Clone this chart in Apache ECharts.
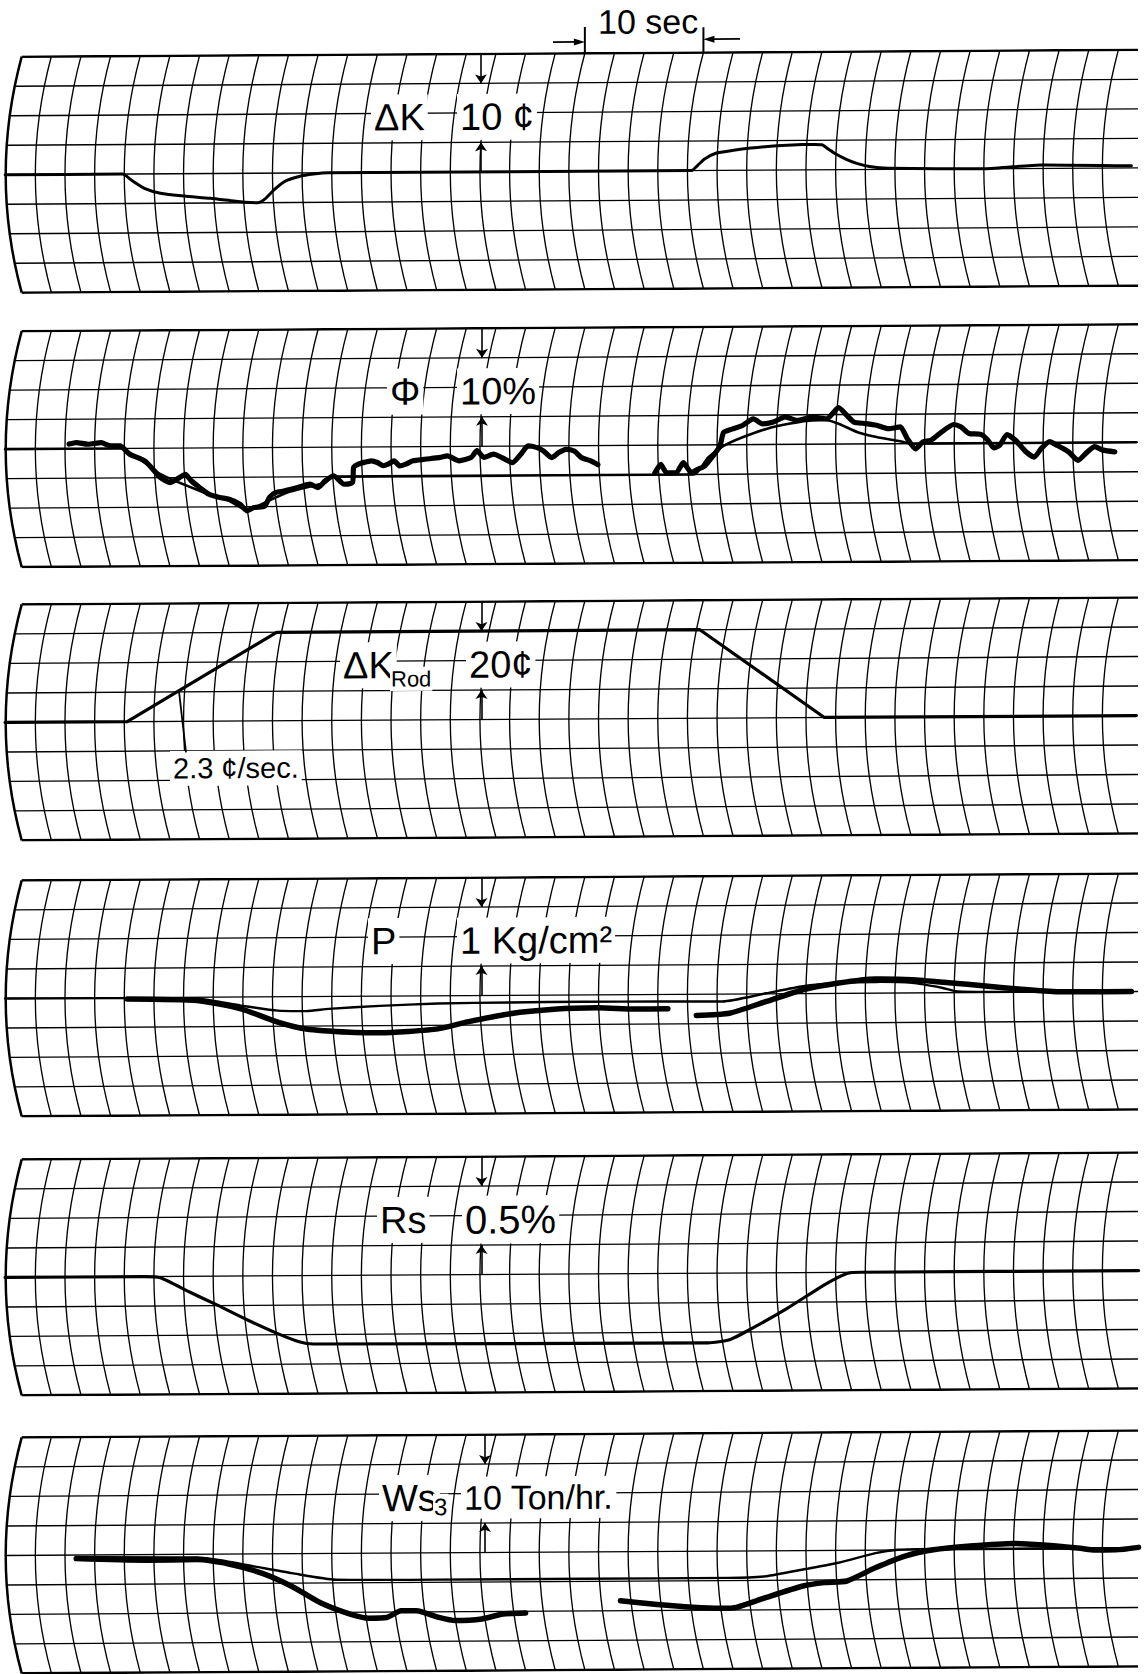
<!DOCTYPE html>
<html>
<head>
<meta charset="utf-8">
<script src="https://cdn.jsdelivr.net/npm/echarts/dist/echarts.min.js"></script>
<style>
  html, body { margin: 0; padding: 0; background: #fff; }
  /* the recorder strips sit slightly tilted on the page */
  #chart { width: 1144px; height: 1674px; transform: skewY(-0.35deg); transform-origin: 50% 50%; }
</style>
</head>
<body>
<div id="chart"></div>
<script>
// recorder paper: one division = 2.5 s, 10 s = 4 divisions
var SEC_PER_DIV = 2.5;
var TIME_LINES = 38;

// value of one chart division for each strip (ΔK ¢, Φ %, ΔK_Rod ¢, P kg/cm², Rs %, Ws3 ton/hr)
var unitPerDiv = [5, 5, 10, 0.5, 0.25, 5];

// strip 1: reactivity ΔK (¢) vs time (s)
var deltaK = [[-1.4,0],[8.5,0],[9.3,-1.1],[10.4,-2.5],[11.7,-3.3],[13.7,-3.8],[15.9,-4.2],[17.9,-4.7],[18.8,-4.9],[19.9,-5.0],
  [20.5,-4.4],[21.3,-2.8],[22.2,-1.4],[23.4,-0.6],[24.6,-0.2],[25.9,0],[56.5,0],[57.0,0.85],[57.6,1.95],[58.6,2.95],
  [59.9,3.35],[61.5,3.75],[63.4,4.1],[65.0,4.25],[66.7,4.3],[67.5,4.25],[67.9,3.7],[68.6,2.75],[69.6,1.7],[70.5,1.0],
  [71.5,0.5],[73.1,0.2],[81.2,0],[86.0,0.6],[93.6,0.35]];

// strip 2: flux Φ (%), calculated and measured (two pieces)
var phiCalc = [[-1.4,0],[8.3,0],[11.7,-4.4],[15.0,-7.25],[17.5,-9.0],[19.0,-10.6],[20.8,-9.05],[22.4,-7.65],[24.0,-6.8],
  [25.6,-6.0],[26.3,-5.0],[56.7,-5.0],[57.9,-2.15],[59.2,-0.2],[60.8,1.25],[62.8,2.65],[64.7,3.5],[66.7,4.05],[67.9,4.05],
  [68.9,3.45],[70.5,2.0],[72.1,1.15],[74.1,0.4],[75.0,0],[94.0,0]];
var phiMeasuredA = [[4.0,0.8],[4.6,1.05],[5.6,0.75],[6.7,1.0],[7.5,0.45],[8.3,0.45],[9.1,-1.0],[10.4,-2.15],[11.7,-4.95],
  [12.5,-5.85],[13.3,-5.0],[13.8,-4.45],[14.3,-5.55],[15.0,-6.7],[15.8,-7.85],[16.7,-8.4],[17.5,-8.7],[18.4,-9.55],
  [19.0,-10.7],[19.6,-10.15],[20.5,-9.9],[20.9,-8.45],[21.4,-7.65],[22.1,-7.4],[22.7,-7.1],[23.7,-6.55],[24.3,-6.25],
  [25.0,-6.85],[25.6,-5.7],[26.3,-4.85],[27.2,-6.3],[27.9,-6.0],[28.0,-3.45],[28.4,-2.9],[28.8,-2.65],[29.5,-2.35],
  [30.0,-2.65],[30.5,-3.2],[30.9,-2.95],[31.4,-2.4],[31.9,-3.25],[32.4,-2.95],[33.0,-2.4],[34.0,-2.15],[35.3,-1.85],
  [35.9,-1.6],[36.9,-2.45],[37.9,-1.9],[38.4,-0.75],[39.0,-1.9],[39.8,-1.35],[40.5,-1.95],[41.4,-2.8],[42.1,-1.4],
  [42.7,0],[43.4,-0.25],[44.0,-0.85],[44.7,-2.0],[45.3,-1.15],[45.9,-0.6],[46.6,-0.9],[47.2,-2.0],[48.0,-2.6],[48.6,-3.25]];
var phiMeasuredB = [[53.4,-4.7],[53.9,-3.25],[54.4,-4.7],[55.2,-4.7],[55.8,-3.0],[56.5,-4.7],[57.0,-4.15],[57.6,-3.6],
  [58.3,-1.9],[58.9,-0.2],[59.2,2.1],[59.9,2.65],[60.8,3.25],[61.7,4.35],[62.5,3.5],[63.4,3.8],[64.4,4.65],[65.4,4.05],
  [66.7,4.6],[67.9,4.3],[68.9,6.2],[69.6,4.85],[70.2,3.7],[71.2,3.45],[72.1,3.15],[73.1,2.55],[74.1,2.85],[74.7,0.85],
  [75.4,-0.9],[76.0,0.25],[76.7,0.55],[77.6,1.95],[78.6,3.2],[79.2,2.8],[79.9,1.65],[80.9,1.5],[81.5,0.5],[82.0,-0.8],
  [82.5,-0.35],[83.1,1.45],[83.8,0.5],[84.7,-1.5],[85.4,-2.4],[86.0,-0.95],[86.7,0.2],[87.3,-0.4],[88.3,-1.55],
  [89.1,-3.0],[89.9,-1.55],[90.5,-0.7],[91.2,-1.3],[92.2,-1.6]];

// strip 3: rod reactivity ΔK_Rod (¢)
var rodK = [[-1.4,0],[8.9,0],[21.5,30],[57.2,30],[67.7,0],[94.0,0]];

// strip 4: pressure P (kg/cm²), calculated and measured
var pressCalc = [[-1.4,0],[14.8,-0.025],[18.5,-0.145],[21.6,-0.235],[24.0,-0.245],[25.9,-0.21],[30.2,-0.165],[35.1,-0.13],
  [41.2,-0.12],[47.4,-0.115],[53.6,-0.12],[59.1,-0.125],[62.8,0.01],[65.9,0.125],[68.9,0.175],[72.0,0.19],[75.1,0.17],
  [77.6,0.085],[78.8,0.025],[81.3,0.01],[93.6,0]];
var pressMeasuredA = [[8.9,-0.02],[14.8,-0.055],[18.5,-0.2],[21.6,-0.43],[24.0,-0.55],[27.7,-0.61],[30.2,-0.62],[32.6,-0.6],
  [35.1,-0.56],[37.6,-0.445],[41.2,-0.31],[44.9,-0.24],[48.6,-0.22],[51.7,-0.245],[54.5,-0.245]];
var pressMeasuredB = [[56.9,-0.36],[59.7,-0.325],[62.8,-0.13],[65.9,0.065],[68.9,0.175],[72.0,0.24],[75.1,0.225],[78.2,0.17],
  [81.3,0.11],[84.3,0.05],[87.4,0.005],[93.6,0]];

// strip 5: Rs (%)
var rs = [[-1.4,0],[10.2,0],[11.7,-0.01],[14.2,-0.135],[16.6,-0.25],[19.1,-0.375],[21.6,-0.49],[23.4,-0.56],[24.6,-0.58],
  [57.9,-0.59],[59.7,-0.565],[61.6,-0.47],[64.6,-0.3],[67.7,-0.105],[69.6,-0.01],[70.8,0],[94.2,0]];

// strip 6: steam flow Ws3 (ton/hr), calculated and measured
var wsCalc = [[4.6,-0.35],[14.8,-0.55],[16.6,-1.0],[19.7,-2.15],[22.8,-3.3],[26.5,-4.45],[35.1,-4.55],[47.4,-4.55],
  [59.7,-4.55],[62.8,-4.3],[65.9,-3.2],[68.9,-2.1],[72.0,-0.5],[73.9,0.05],[76.9,0.15],[94.2,0.05]];
var wsMeasuredA = [[4.6,-0.6],[10.5,-0.95],[14.8,-0.9],[17.3,-1.6],[20.3,-3.3],[22.8,-5.55],[25.2,-8.35],[27.7,-10.3],
  [29.3,-11.0],[30.8,-10.9],[32.0,-9.8],[33.3,-9.8],[35.1,-10.9],[36.6,-11.5],[38.8,-11.25],[40.6,-10.45],[42.5,-10.3]];
var wsMeasuredB = [[50.5,-8.3],[53.6,-9.0],[56.6,-9.5],[59.1,-9.7],[60.3,-9.55],[62.8,-7.9],[65.9,-6.0],[67.7,-5.45],
  [69.6,-5.2],[72.0,-3.0],[74.5,-1.05],[76.9,0.0],[80.0,0.6],[83.7,1.0],[86.2,0.7],[89.3,0.1],[90.5,-0.2],[92.3,-0.2],[94.2,0.2]];

// ---- layout (pixels) ----
var W = 1144;
var X0 = 21.7, DIV_PX = 29.64, ROW_PX = 29.5, SAG_PX = 16, LINE_END_PX = 1138;
var panelTop = [53.3, 327.7, 601, 877, 1156, 1434];
var scaleBarX = [481, 482, 481.5, 481.5, 481.5, 485];
var FONT = '"Liberation Sans", Arial, sans-serif';

var PX_PER_S = DIV_PX / SEC_PER_DIV;
function tAt(px) { return (px - X0) / PX_PER_S; }
function pxAt(t) { return X0 + t * PX_PER_S; }
var sag = SAG_PX / PX_PER_S;
var tEnd = tAt(LINE_END_PX);

var traces = [
  { p: 0, data: deltaK, w: 3 },
  { p: 1, data: phiCalc, w: 2.6 },
  { p: 1, data: phiMeasuredA, w: 5.2 },
  { p: 1, data: phiMeasuredB, w: 5.2 },
  { p: 2, data: rodK, w: 3.2, sharp: true },
  { p: 3, data: pressCalc, w: 2.4 },
  { p: 3, data: pressMeasuredA, w: 5.5 },
  { p: 3, data: pressMeasuredB, w: 5.5 },
  { p: 4, data: rs, w: 3.2 },
  { p: 5, data: wsCalc, w: 2.4 },
  { p: 5, data: wsMeasuredA, w: 5.5 },
  { p: 5, data: wsMeasuredB, w: 5.5 }
];

var grids = [], xAxes = [], yAxes = [], series = [];

function gridLines(p, data, width) {
  return {
    type: 'lines', coordinateSystem: 'cartesian2d', xAxisIndex: p, yAxisIndex: p,
    polyline: true, silent: true, z: 1,
    lineStyle: { color: '#000', width: width, opacity: 1 },
    data: data
  };
}

panelTop.forEach(function (top, p) {
  var u = unitPerDiv[p];
  grids.push({ left: 0, top: top, width: W, height: 8 * ROW_PX });
  xAxes.push({ type: 'value', gridIndex: p, min: tAt(0), max: tAt(W), show: false });
  yAxes.push({ type: 'value', gridIndex: p, min: -4 * u, max: 4 * u, show: false });

  // curved time lines of the recorder chart
  var thin = [], bold = [];
  for (var i = 0; i < TIME_LINES; i++) {
    var pts = [];
    for (var k = -8; k <= 8; k++) {
      var d = k / 2;
      pts.push([i * SEC_PER_DIV - sag * (1 - (d / 4) * (d / 4)), d * u]);
    }
    (i === 0 ? bold : thin).push({ coords: pts });
  }
  for (var d2 = -4; d2 <= 4; d2++) {
    var start = -sag * (1 - (d2 / 4) * (d2 / 4));
    (Math.abs(d2) === 4 ? bold : thin).push({ coords: [[start, d2 * u], [tEnd, d2 * u]] });
  }
  series.push(gridLines(p, thin, 1.35));
  series.push(gridLines(p, bold, 2.5));

  // scale bar: two arrows pointing at the lines two divisions apart
  var ts = tAt(scaleBarX[p]);
  series.push({
    type: 'lines', coordinateSystem: 'cartesian2d', xAxisIndex: p, yAxisIndex: p, silent: true, z: 4,
    symbol: ['none', 'arrow'], symbolSize: 9,
    lineStyle: { color: '#000', width: 1.6, opacity: 1 },
    data: [{ coords: [[ts, 4 * u], [ts, 3 * u]] }, { coords: [[ts, 0], [ts, u]] }]
  });
});

traces.forEach(function (tr) {
  series.push({
    type: 'line', xAxisIndex: tr.p, yAxisIndex: tr.p, data: tr.data,
    symbol: 'none', silent: true, z: 3,
    smooth: tr.sharp ? false : 0.2,
    lineStyle: { color: '#000', width: tr.w, cap: 'round', join: 'round' }
  });
});

// scale labels on each strip
var labelParts = [
  [{ text: 'ΔK', x: 371 }, { text: '10 ¢', x: 457 }],
  [{ text: 'Φ', x: 387 }, { text: '10%', x: 457 }],
  [{ text: 'ΔK', x: 340 }, { text: 'Rod', x: 390, size: 22, dy: 14 }, { text: '20¢', x: 466 }],
  [{ text: 'P', x: 368 }, { text: '1 Kg/cm²', x: 457 }],
  [{ text: 'Rs', x: 377 }, { text: '0.5%', x: 462, size: 40 }],
  [{ text: 'Ws', x: 379 }, { text: '3', x: 433, size: 24, dy: 9 }, { text: '10 Ton/hr.', x: 461, size: 34 }]
];

function textEl(x, y, text, size, pad) {
  return {
    type: 'text', x: x, y: y, z: 100,
    style: {
      text: text, font: size + 'px ' + FONT, fill: '#000',
      align: 'left', textAlign: 'left', verticalAlign: 'middle', textVerticalAlign: 'middle',
      backgroundColor: '#fff', padding: pad || [4, 3]
    }
  };
}

var graphics = [];
labelParts.forEach(function (parts, p) {
  var cy = panelTop[p] + 63;
  parts.forEach(function (pt) {
    graphics.push(textEl(pt.x, cy + (pt.dy || 0), pt.text, pt.size || 38, pt.size && pt.size < 30 ? [1, 1] : [4, 3]));
  });
});

// rate note on the rod strip with its leader line
var t3 = panelTop[2];
graphics.push(textEl(170, t3 + 165, '2.3 ¢/sec.', 29, [3, 3]));
graphics.push({ type: 'line', z: 100, shape: { x1: 179, y1: t3 + 88, x2: 186, y2: t3 + 149 }, style: { stroke: '#000', lineWidth: 1.8 } });

// "10 sec" time scale above the first strip
var tickL = pxAt(47.5), tickR = pxAt(57.5), top0 = panelTop[0];
graphics.push({ type: 'text', x: 598, y: 22, z: 100,
  style: { text: '10 sec', font: '34px ' + FONT, fill: '#000', align: 'left', textAlign: 'left', verticalAlign: 'middle', textVerticalAlign: 'middle' } });
graphics.push({ type: 'line', z: 100, shape: { x1: tickL, y1: 27, x2: tickL, y2: top0 }, style: { stroke: '#000', lineWidth: 2 } });
graphics.push({ type: 'line', z: 100, shape: { x1: tickR, y1: 28, x2: tickR, y2: top0 }, style: { stroke: '#000', lineWidth: 2 } });
graphics.push({ type: 'line', z: 100, shape: { x1: 553, y1: 42, x2: tickL - 8, y2: 42 }, style: { stroke: '#000', lineWidth: 1.8 } });
graphics.push({ type: 'polygon', z: 100, shape: { points: [[tickL, 42], [tickL - 11, 38.5], [tickL - 11, 45.5]] }, style: { fill: '#000' } });
graphics.push({ type: 'line', z: 100, shape: { x1: tickR + 8, y1: 40, x2: 740, y2: 40 }, style: { stroke: '#000', lineWidth: 1.8 } });
graphics.push({ type: 'polygon', z: 100, shape: { points: [[tickR, 40], [tickR + 11, 36.5], [tickR + 11, 43.5]] }, style: { fill: '#000' } });

var myChart = echarts.init(document.getElementById('chart'), null, { renderer: 'svg' });

option = {
  animation: false,
  backgroundColor: '#fff',
  grid: grids,
  xAxis: xAxes,
  yAxis: yAxes,
  series: series,
  graphic: { elements: graphics }
};

myChart.setOption(option);
</script>
</body>
</html>
